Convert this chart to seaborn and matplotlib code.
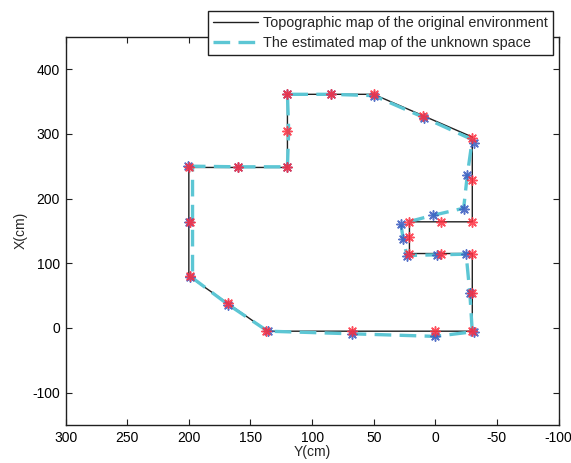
import numpy as np
import pandas as pd
import matplotlib
matplotlib.use("Agg")
import matplotlib.pyplot as plt
import seaborn as sns

# Original environment outline (Y, X in cm), closed polygon
true_y = [200, 120, 120, 50, -30, -30, 21, 21, -30, -30, 136, 200, 200]
true_x = [248, 248, 361, 361, 295, 164, 164, 115, 115, -5, -5, 80, 248]

# Estimated map of the unknown space (dashed path)
est_y = [200, 160, 120, 119, 120, 85, 50, 9, -30, -26, -23, 2, 28, 26, 23, -1, -25, -28, -30, 0, 68, 136, 168, 199, 197, 197, 200]
est_x = [250, 249, 249, 305, 361, 361, 359, 325, 291, 237, 185, 174, 161, 137, 112, 113, 114, 54, -6, -13, -9, -5, 36, 80, 82, 248, 250]

# Estimated landmark positions (blue)
blue_y = [201, 160, 120, 120, 85, 50, 9, -31, -26, -23, 2, 28, 26, 23, -1, -25, -28, -31, 0, 68, 136, 168, 199, 200]
blue_x = [250, 249, 249, 361, 361, 359, 324, 286, 237, 184, 174, 160, 137, 111, 113, 115, 54, -7, -13, -9, -5, 35, 79, 163]

# True landmark positions (red)
red_y = [200, 160, 120, 120, 120, 85, 50, 10, -30, -30, -30, -5, 21, 21, 21, -5, -30, -30, -30, 0, 68, 137, 168, 199, 199]
red_x = [249, 248, 248, 305, 361, 361, 361, 328, 294, 229, 164, 164, 164, 140, 115, 115, 115, 54, -5, -5, -5, -5, 38, 80, 163]

x_ticks = [300, 250, 200, 150, 100, 50, 0, -50, -100]
y_ticks = [-100, 0, 100, 200, 300, 400]

sns.set_style("white")
plt.rcParams["font.family"] = ["Liberation Sans", "DejaVu Sans"]
plt.rcParams["axes.unicode_minus"] = False

fig = plt.figure(figsize=(5.71, 4.63), dpi=100)
ax = fig.add_axes([0.1149, 0.082, 0.8633, 0.8387])

df_true = pd.DataFrame({"Y": true_y, "X": true_x})
df_est = pd.DataFrame({"Y": est_y, "X": est_x})

sns.lineplot(data=df_true, x="Y", y="X", sort=False, estimator=None, ax=ax,
             color="#202020", linewidth=1.0,
             label="Topographic map of the original environment")
sns.lineplot(data=df_est, x="Y", y="X", sort=False, estimator=None, ax=ax,
             color="#5cc6d4", linewidth=2.4,
             label="The estimated map of the unknown space")
ax.lines[-1].set_dashes([5, 2.5])

# MATLAB-style asterisk markers
star = (8, 2, 0)
ax.scatter(blue_y, blue_x, marker=star, s=45, color="#3a5bc0",
           linewidths=1.1, alpha=0.85, zorder=4)
ax.scatter(red_y, red_x, marker=star, s=45, color="#ff3040",
           linewidths=1.1, alpha=0.85, zorder=5)

ax.set_xlim(300, -100)
ax.set_ylim(-150, 450)
ax.set_xticks(x_ticks)
ax.set_yticks(y_ticks)
ax.set_xlabel("Y(cm)", fontsize=10, labelpad=0)
ax.set_ylabel("X(cm)", fontsize=10, labelpad=3)
ax.tick_params(direction="in", length=4, width=0.8, labelsize=10,
               top=True, right=True, bottom=True, left=True, colors="#202020")
ax.tick_params(axis="both", labelcolor="black", pad=4)
for sp in ax.spines.values():
    sp.set_color("#202020")
    sp.set_linewidth(1.0)

leg = ax.legend(loc="upper right", bbox_to_anchor=(0.989, 1.067),
                borderaxespad=0, fontsize=10.4, frameon=True, fancybox=False,
                handlelength=3.1, handletextpad=0.35, borderpad=0.35,
                labelspacing=0.45, framealpha=1)
leg.get_frame().set_edgecolor("#202020")
leg.get_frame().set_linewidth(1.0)
leg.set_zorder(10)

fig.savefig("out.png", dpi=100)
